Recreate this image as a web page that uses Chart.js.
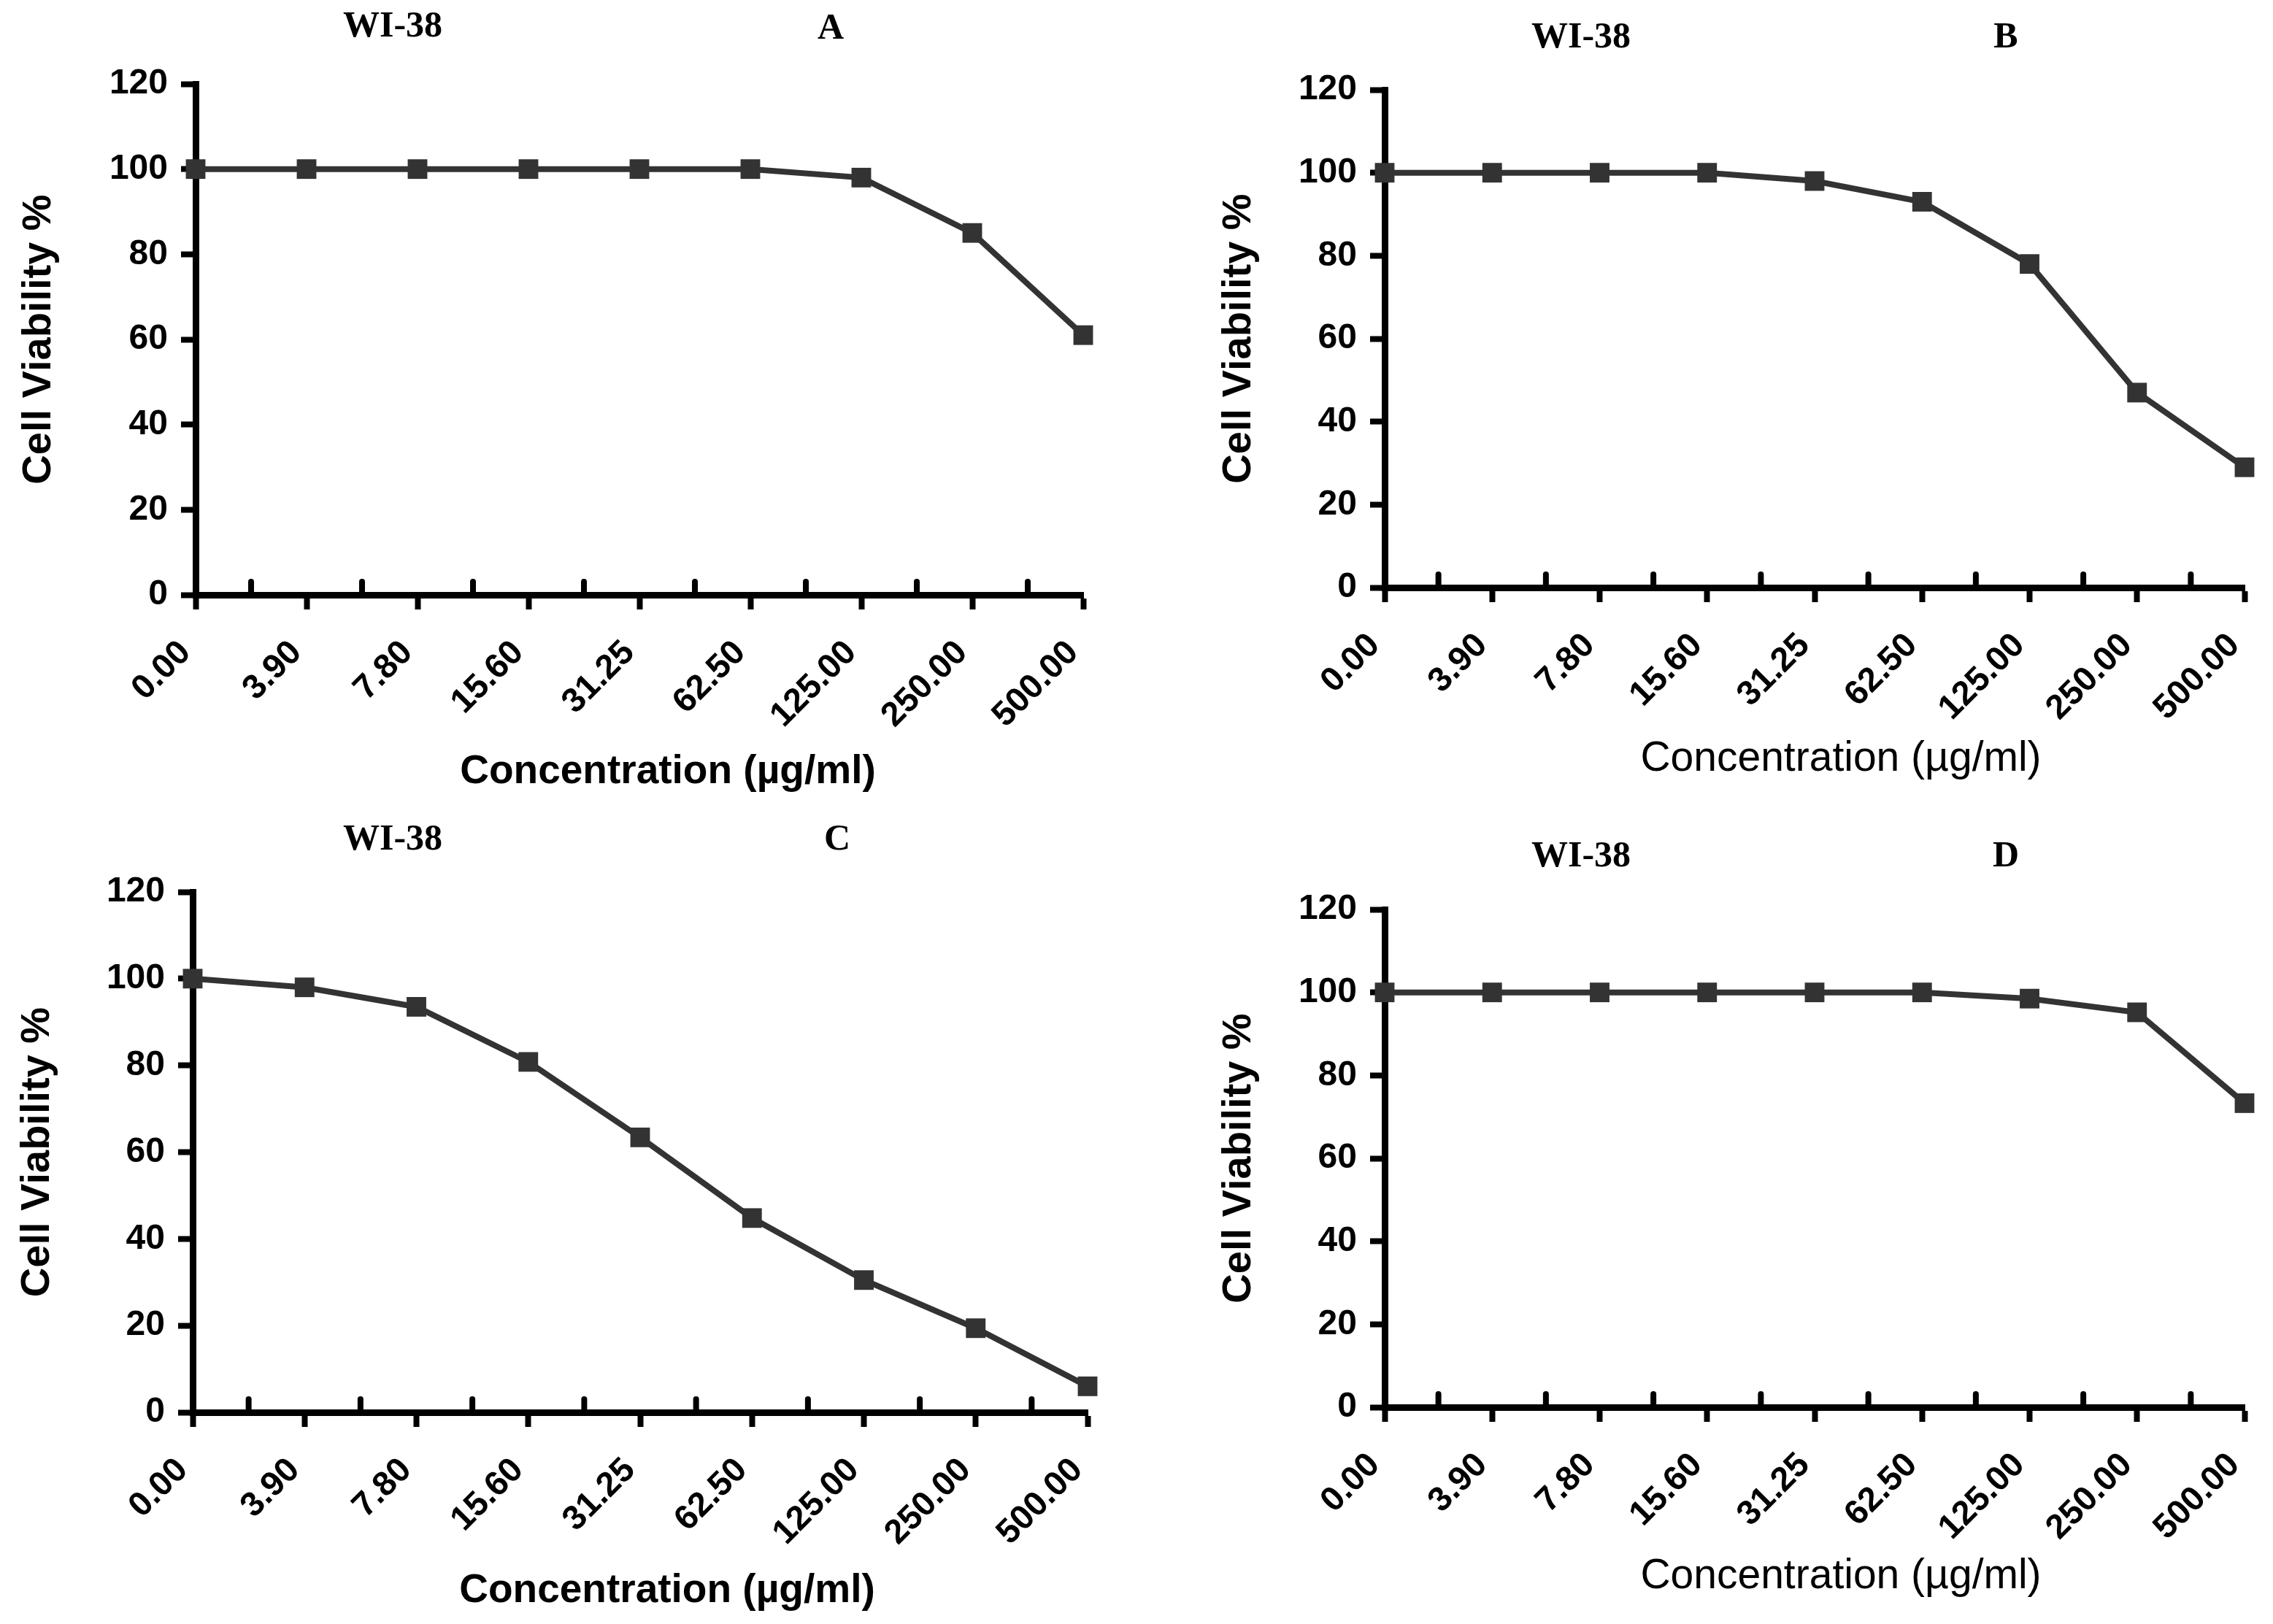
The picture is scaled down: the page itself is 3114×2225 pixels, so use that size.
<!DOCTYPE html>
<html><head><meta charset="utf-8">
<script src="https://cdn.jsdelivr.net/npm/chart.js@4.4.1/dist/chart.umd.min.js"></script>
<style>
html,body{margin:0;padding:0;background:#fff;}
#wrap{position:relative;width:3114px;height:2225px;overflow:hidden;background:#fff;}
#wrap canvas{position:absolute;left:0;top:0;}
</style>
</head><body><div id="wrap"></div>
<script>
// ---- data ----
const categories = ['0.00','3.90','7.80','15.60','31.25','62.50','125.00','250.00','500.00'];
const viabilityA = [100,100,100,100,100,100,98,85,61];
const viabilityB = [100,100,100,100,98,93,78,47,29];
const viabilityC = [100,98,93.5,80.8,63.4,44.8,30.5,19.4,6];
const viabilityD = [100,100,100,100,100,100,98.5,95.2,73.3];
const yTicks = [0,20,40,60,80,100,120];
const cellLine = 'WI-38';
const panelLetters = ['A','B','C','D'];
const xAxisTitle = 'Concentration (\u00b5g/ml)';
const yAxisTitle = 'Cell Viability %';

// ---- layout ----
const W = 3114, H = 2225;
const panels = [
  {values:viabilityA, letter:panelLetters[0], left:268, right:1484, top:115, bottom:815, yTitleX:54,
   xTitle:{x:915, y:1058, bold:true}, t1:{x:538, y:37}, t2:{x:1138, y:40}},
  {values:viabilityB, letter:panelLetters[1], left:1897, right:3075, top:123, bottom:805, yTitleX:1698,
   xTitle:{x:2522, y:1040, bold:false}, t1:{x:2166, y:52}, t2:{x:2748, y:52}},
  {values:viabilityC, letter:panelLetters[2], left:264, right:1490, top:1222, bottom:1935, yTitleX:52,
   xTitle:{x:914, y:2180, bold:true}, t1:{x:538, y:1151}, t2:{x:1147, y:1151}},
  {values:viabilityD, letter:panelLetters[3], left:1897, right:3075, top:1246, bottom:1928, yTitleX:1698,
   xTitle:{x:2522, y:2160, bold:false}, t1:{x:2166, y:1174}, t2:{x:2748, y:1174}}
];

const SANS = '"Liberation Sans", Arial, sans-serif';
const SERIF = '"Liberation Serif", "Times New Roman", serif';

const extras = {
  id: 'extras',
  beforeDatasetsDraw(chart, args, opts) {
    const ctx = chart.ctx, xs = chart.scales.x, b = chart.chartArea.bottom;
    ctx.save();
    ctx.strokeStyle = '#000';
    ctx.lineWidth = 8;
    ctx.lineCap = 'round';
    for (let i = 0; i < categories.length - 1; i++) {
      const x = xs.getPixelForValue(i + 0.5);
      ctx.beginPath(); ctx.moveTo(x, b - 18); ctx.lineTo(x, b); ctx.stroke();
    }
    ctx.restore();
  },
  afterDraw(chart, args, opts) {
    const p = opts.panel, ctx = chart.ctx;
    ctx.save();
    ctx.fillStyle = '#000';
    ctx.textAlign = 'center';
    ctx.textBaseline = 'middle';
    ctx.font = 'bold 50px ' + SERIF;
    ctx.fillText(cellLine, p.t1.x, p.t1.y);
    ctx.fillText(p.letter, p.t2.x, p.t2.y);
    ctx.font = p.xTitle.bold ? ('bold 55px ' + SANS) : ('57px ' + SANS);
    ctx.fillText(xAxisTitle, p.xTitle.x, p.xTitle.y);
    ctx.restore();
  }
};

panels.forEach((p, idx) => {
  const cv = document.createElement('canvas');
  cv.width = W; cv.height = H;
  cv.style.width = W + 'px'; cv.style.height = H + 'px';
  document.getElementById('wrap').appendChild(cv);
  const lh = 56 * 1.2;
  new Chart(cv, {
    type: 'line',
    data: {
      labels: categories,
      datasets: [{
        data: p.values,
        borderColor: '#333333',
        backgroundColor: '#333333',
        borderWidth: 8,
        tension: 0,
        pointStyle: 'rect',
        pointRadius: 19,
        pointHoverRadius: 19,
        pointBackgroundColor: '#333333',
        pointBorderColor: '#333333',
        pointBorderWidth: 0,
        clip: false
      }]
    },
    options: {
      responsive: false,
      animation: false,
      devicePixelRatio: 1,
      layout: {padding: {left: 0, top: p.top, right: W - p.right, bottom: 0}},
      plugins: {
        legend: {display: false},
        tooltip: {enabled: false},
        title: {display: false},
        extras: {panel: p}
      },
      scales: {
        x: {
          type: 'category',
          offset: false,
          grid: {display: true, drawOnChartArea: false, drawTicks: true, tickLength: 20, tickWidth: 8, tickColor: '#000'},
          border: {display: true, color: '#000', width: 9},
          ticks: {
            autoSkip: false, minRotation: 45, maxRotation: 45, padding: 32, labelOffset: -14,
            color: '#000', font: {family: SANS, size: 47, weight: 'bold'}
          },
          afterFit(s) { s.height = H - p.bottom; s.paddingLeft = 0; s.paddingRight = 0; }
        },
        y: {
          min: 0, max: 120,
          afterBuildTicks(s) { s.ticks = yTicks.map(v => ({value: v})); },
          grid: {display: true, drawOnChartArea: false, drawTicks: true, tickLength: 20, tickWidth: 8, tickColor: '#000'},
          border: {display: true, color: '#000', width: 9},
          ticks: {padding: 18, color: '#000', font: {family: SANS, size: 48, weight: 'bold'}},
          title: {
            display: true, text: yAxisTitle, color: '#000',
            font: {family: SANS, size: 56, weight: 'bold', lineHeight: 1.2},
            padding: {top: p.yTitleX - lh / 2, bottom: 0}
          },
          afterFit(s) { s.width = p.left; s.paddingTop = 0; s.paddingBottom = 0; }
        }
      }
    },
    plugins: [extras]
  });
});
</script>
</body></html>
